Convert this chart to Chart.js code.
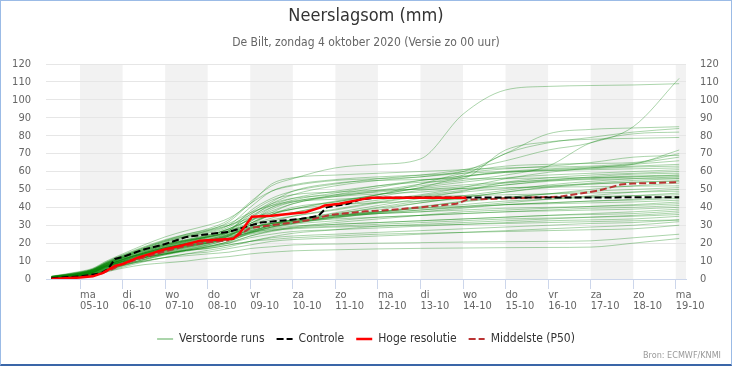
<!DOCTYPE html>
<html><head><meta charset="utf-8">
<script src="https://cdn.jsdelivr.net/npm/chart.js@4.4.1/dist/chart.umd.min.js"></script>
<style>
html,body{margin:0;padding:0;background:#fff;}
#wrap{position:relative;width:732px;height:366px;overflow:hidden;background:#fff;}
#c{position:absolute;left:0;top:0;}
#frame{position:absolute;left:0;top:0;width:732px;height:366px;box-sizing:border-box;border:1px solid #9bbbe6;border-bottom:2px solid #3a66a8;pointer-events:none;}
</style></head>
<body><div id="wrap"><canvas id="c" width="732" height="366"></canvas><div id="frame"></div></div>
<script>
const FONT = "'DejaVu Sans Condensed', 'DejaVu Sans', sans-serif";

// x values are days since zondag 04-10 00:00 (local time)
const dayNames = ['ma','di','wo','do','vr','za','zo','ma','di','wo','do','vr','za','zo','ma'];
const dayDates = ['05-10','06-10','07-10','08-10','09-10','10-10','11-10','12-10','13-10','14-10','15-10','16-10','17-10','18-10','19-10'];
const tickDays = [1,2,3,4,5,6,7,8,9,10,11,12,13,14,15];
const shadedDays = [1,3,5,7,9,11,13,15];

// Hoge resolutie
const hresTimes  = [0.33,1.0,1.3,1.54,1.82,2.01,2.34,2.65,2.95,3.35,3.82,4.6,4.76,5.04,5.5,6.0,6.3,6.64,6.75,7.1,7.58,7.82,10.08];
const hresValues = [0,0.8,1.5,3.4,7.3,8.4,11.8,14,16.3,18.5,21.3,22.4,25.8,34.8,35.3,36.5,37.3,39.8,41,42,44.3,45.4,45.4];
// Controle
const ctrlTimes  = [0.33,1.0,1.47,1.66,1.82,2.0,2.5,3.0,3.5,4.0,4.5,4.95,5.25,5.7,6.2,6.6,6.8,7.3,7.6,8.0,15.08];
const ctrlValues = [0.4,1.5,3,5.6,11.2,12.3,16.5,19.5,23.5,25,26.3,29.5,31.5,32.5,33.6,35.2,40,42,44.5,45.4,45.6];
// Middelste (P50)
const p50Times  = [0.33,1.0,1.5,1.8,2.0,2.5,3.0,3.5,4.0,4.45,4.7,5.0,5.5,6.0,6.4,6.7,6.9,7.7,8.1,9.0,9.85,10.1,10.9,12.3,13.2,13.7,14.0,15.08];
const p50Values = [0.3,1.2,3,6,8.5,12,15.5,18.5,20.5,21.5,24,28.5,30,31.5,33,34.8,35.8,37.8,38.2,40,42,44.3,44.9,46,49.4,52.7,53.3,54];

// Verstoorde runs (50 members), values at runTimes
const runTimes = [0.33,1.0,1.3,1.6,2.0,2.5,3.0,3.5,4.0,4.5,5.0,5.5,6.0,7.0,8.0,9.0,10.0,11.0,12.0,13.0,14.0,15.08];
const run01 = [1.0,3.0,4.5,7.5,11,15,18.5,21,23.5,27,38,45,49,53,56,58,61,66,72,76,85,112];
const run02 = [1.5,3.8,5.5,9,13,17.5,21.5,25,28,33,43,52,56,62,64,67,92,105.5,107.5,108,108.3,109];
const run03 = [0.6,2.2,3.5,6.5,10,14,17,20,22,26,34,42,47,52,55,57,60,70,81,83.5,84.3,85];
const run04 = [1.3,3.5,5.2,8.5,12,16,19.5,22,24.5,28,33,38,42,47,51,55,58,70,76,79,82,84];
const run05 = [0.7,2.4,3.8,7,10,13.5,17,19.5,21.5,25,31,37,42,46,49,52,55,58,63,76,81,82];
const run06 = [1.0,3.0,4.8,8,11.5,15.5,19,21.5,24,28,35,41,45,49,52,54,56,72,76.5,78,78.5,79];
const run07 = [0.4,1.8,3.2,6,9,12.5,15.5,18,20.5,24,30,36,39,43,47,51,57,60,61.5,62.5,64,72];
const run08 = [1.2,3.3,5,8.5,12.5,17,21,24,27,32,42,49,52,55,56,57,60,63,64,64.5,65,70];
const run09 = [0.8,2.5,4,7.2,10.5,14.5,18,20.5,23,26,31,36,40,43,47,53,59,61.5,63,65,68,69];
const run10 = [1.6,4.2,6,9.8,14,19,23.5,27,30,34,42,53,56.5,58,59,60,61,62,62.5,63,64.5,68];
const run11 = [0.5,2.0,3.4,6.3,9.5,13,16,18.5,21,24.5,30,34,37,41,44,47,51,56,59.5,62,64,66];
const run12 = [0.9,2.7,4.3,7.6,11,15,18.5,21,23.5,27,36,42,45,47,49.5,53,57,59.5,61,62,63,64];
const run13 = [0.3,1.4,2.7,5.4,8.5,12,15,17.5,20,24,32,40,44,48,52,55,57.5,59.5,60.5,61.5,62.5,63];
const run14 = [1.1,3.1,4.8,8.2,12,16.5,20.5,23.5,26,30,40,49,52.5,55.5,57,58,59,60,60.5,61,61.5,62];
const run15 = [0.6,2.1,3.6,6.8,10,14,17.5,20,22.5,26,31,36,39,43.5,47,51,54,56.5,58,59,60,61];
const run16 = [0.8,2.6,4.2,7.5,10.8,14.5,17.5,19.5,21.5,24.5,29,31,33,37,41,45,49,54,56.5,58,59,60];
const run17 = [1.4,3.9,5.6,9.4,13.5,18,22,25,27.5,31,37,41,43.5,46,47.5,48.5,50.5,52.5,55,57,58.5,59];
const run18 = [0.2,1.1,2.3,4.8,7.6,11,14,16.5,19,22.5,28,32,35,39,43,46.5,49.5,52.5,54.5,56,57,58];
const run19 = [1.0,2.9,4.6,8,11.8,16,19.5,22,24.5,28,33,35,37,42,46,49.5,51.5,53.5,55.5,56.5,57.5,58];
const run20 = [0.5,2.0,3.5,6.6,9.6,13,16,18.5,21,24,27,30,32,36,40,43.5,46.5,49.5,52.5,54.5,56,57];
const run21 = [1.3,3.5,5.3,8.9,12.8,17,21,24,26.5,30,36,43,49,53.5,55,55.5,56,56,56.5,56.5,57,57];
const run22 = [0.4,1.6,2.9,5.8,8.8,12,15,17.5,19.5,23,26,29,31,35,38.5,42.5,45.5,48.5,51.5,53.5,55,56];
const run23 = [0.7,2.4,4,7.3,10.8,14.5,18,20.5,23,26.5,32,39,43,46.5,48.5,50.5,52.5,54,55,55.5,56,56];
const run24 = [1.0,3.0,4.7,8.2,11.8,15.5,19,21.5,24,27.5,30,33,35,38.5,42.5,46,48.5,50.5,52,53,54,55];
const run25 = [0.3,1.3,2.6,5.2,8,11,14,16,18,21,26,30,33,36.5,39.5,42.5,45.5,48.5,51,53,54,54.5];
const run26 = [0.8,2.6,4.2,7.4,10.7,14.3,17.5,19.8,22,25,27,29.5,31,34.5,37.5,40.5,43,45.5,47.5,50,52,53.5];
const run27 = [1.2,3.3,5.1,8.6,12.5,16.5,20,23,25.5,29,37,44,47,48.5,49.5,50,50.5,51,51.3,51.5,51.8,52];
const run28 = [0.6,2.2,3.7,6.9,10,13.5,16.5,19,21,24,26.5,29,31,34,37,40,43.5,45.5,47.5,49,50,51];
const run29 = [0.2,1.0,2.1,4.4,7.2,10.5,13.5,16,18,21,25.5,29,31.5,34.5,36.5,38.5,40.5,42.5,44.5,46.5,48.5,50];
const run30 = [1.0,2.9,4.5,7.8,11.3,15,18.5,21,23.5,27,34,40,43,44.5,45.5,46,46.5,47,47.5,48,48.5,49];
const run31 = [0.5,1.9,3.3,6.2,9.3,12.5,15.5,18,20,23,27.5,31,33,35.5,37.5,39.5,41.5,43.5,44.5,45.5,46.5,48];
const run32 = [1.4,3.7,5.5,9.2,13.2,17.5,21.5,24.5,27,30,34,37,39,41.5,42.5,43.5,44.5,45,45.5,46,46.5,47];
const run33 = [0.4,1.5,2.8,5.5,8.6,11.7,14.5,17,19,22,26.5,30,32,34.5,36.5,37.5,39.5,41.5,42.5,43.5,44.5,46];
const run34 = [0.7,2.3,3.8,7,10.3,13.8,17,19.5,21.5,24.5,28,30.5,32,35,37,38.5,40,41.5,42.5,43.5,44,45];
const run35 = [1.1,3.1,4.9,8.4,12,15.8,19,21.5,23.5,26.5,29,31,32.5,35.5,37.5,39.5,40.5,41.5,42,42.5,43,44];
const run36 = [0.3,1.2,2.4,4.9,7.8,10.8,13.5,15.5,17.5,20,24,27,29,31.5,33.5,35.5,37.5,38.5,39.5,40.5,41.5,43];
const run37 = [0.8,2.6,4.2,7.4,10.8,14.5,17.5,20,22,25,28.5,31,33,35.5,36.5,37.5,38.5,39.5,40,40.5,41,42];
const run38 = [0.6,2.0,3.5,6.5,9.6,13,16,18,20,22.5,26,28.5,30.5,32.5,34.5,35.5,36.5,37.5,38.5,39.5,40,41];
const run39 = [1.3,3.4,5.2,8.8,12.5,16.5,19.5,21.5,23.5,25.5,28.5,31,32,33.5,34.5,35.5,36.5,37.5,38,38.5,39,40];
const run40 = [0.4,1.5,2.8,5.5,8.5,11.8,14.5,16.5,18.5,20.5,24,26.5,28.5,30.5,31.5,32.5,33.5,34.5,35.5,36.5,37.5,39];
const run41 = [0.7,2.4,4,7.2,10.5,13.8,16.5,18.5,20.5,22.5,25.5,28,29.5,30.5,31.5,32.5,33.5,34.5,35.5,36,36.5,38];
const run42 = [0.2,0.9,1.9,4.0,6.6,9.6,12,14,16,18,21,23.5,25.5,27.5,29.5,30.5,31.5,32.5,33.5,34.5,35.5,37];
const run43 = [0.9,2.7,4.4,7.7,11,14.5,17.5,19.5,21.5,23.5,26,27.5,28.5,29.5,30.5,31.5,32.5,33.5,34,34.5,35,36];
const run44 = [0.5,1.8,3.1,6,9,12,14,16,18,20,23,25,26.5,27.5,28.5,29.5,30.5,31.5,32.5,33,33.5,35];
const run45 = [0.6,2.1,3.6,6.6,9.6,12,14,16,17,19,21,23,24,25,26,27,28,29,30,31,31.5,33];
const run46 = [1.2,3.1,4.8,8.1,11.5,14,17,19,20,22,25,27,28,29,29.5,30,30.5,31,31.5,32,32.5,33];
const run47 = [0.3,1.2,2.3,4.6,7.4,10,12,14,15,17,19,21,22,23,24,25,26,27,28,29,30,32];
const run48 = [0.7,2.2,3.8,6.9,9.8,12,14,16,17,19,21,22,23,24,25,25.5,26,26.5,27,27.5,28,30];
const run49 = [0.4,1.4,2.6,5.1,7.8,10,12,13,14,15,17,18,19,19.5,20,20.3,20.6,20.8,21,21.3,23,25];
const run50 = [0.2,0.8,1.8,3.8,6,8,9,10,11.5,12.5,14,15,15.7,16.3,16.8,17.1,17.3,17.5,17.6,17.8,20,22.6];
const runs = [run01,run02,run03,run04,run05,run06,run07,run08,run09,run10,run11,run12,run13,run14,run15,run16,run17,run18,run19,run20,
              run21,run22,run23,run24,run25,run26,run27,run28,run29,run30,run31,run32,run33,run34,run35,run36,run37,run38,run39,run40,
              run41,run42,run43,run44,run45,run46,run47,run48,run49,run50];

const pairs = (ts, vs) => ts.map((t, i) => ({x: t, y: vs[i]}));

const datasets = [
  {label:'Hoge resolutie', data:pairs(hresTimes,hresValues), borderColor:'#ff0000', backgroundColor:'#ff0000', borderWidth:2.5},
  {label:'Controle', data:pairs(ctrlTimes,ctrlValues), borderColor:'#000000', backgroundColor:'#000000', borderWidth:2, borderDash:[7,3]},
  {label:'Middelste (P50)', data:pairs(p50Times,p50Values), borderColor:'#bb3333', backgroundColor:'#bb3333', borderWidth:2, borderDash:[7,3]}
];
runs.forEach(r => datasets.push({label:'Verstoorde runs', data:pairs(runTimes,r), borderColor:'rgba(0,128,0,0.33)', backgroundColor:'rgba(0,128,0,0.33)', borderWidth:1, cubicInterpolationMode:'monotone'}));
const legendRank = {0:2, 1:1, 2:3, 3:0};

const bandPlugin = {
  id:'bands',
  beforeDraw(chart){
    const {ctx, chartArea:a, scales:{x}} = chart;
    ctx.save(); ctx.fillStyle = '#f2f2f2';
    shadedDays.forEach(d => {
      const x0 = Math.max(x.getPixelForValue(d), a.left);
      const x1 = Math.min(x.getPixelForValue(d + 1), a.right);
      if (x1 > x0) ctx.fillRect(x0, a.top, x1 - x0, a.bottom - a.top);
    });
    ctx.restore();
  }
};
const creditPlugin = {
  id:'credits',
  afterDraw(chart){
    const ctx = chart.ctx;
    ctx.save(); ctx.font = '9px ' + FONT; ctx.fillStyle = '#999999';
    ctx.textAlign = 'right'; ctx.textBaseline = 'middle';
    ctx.fillText('Bron: ECMWF/KNMI', 721, 356);
    ctx.restore();
  }
};

new Chart(document.getElementById('c'), {
  type:'line',
  data:{datasets},
  plugins:[bandPlugin, creditPlugin],
  options:{
    responsive:false, animation:false, devicePixelRatio:1,
    layout:{padding:{top:0, left:0, right:0, bottom:11}},
    elements:{point:{radius:0, hoverRadius:0}, line:{tension:0, fill:false}},
    plugins:{
      title:{display:true, text:'Neerslagsom (mm)', color:'#333333', font:{family:FONT, size:18, weight:'normal', lineHeight:1.2}, padding:{top:6, bottom:0}},
      subtitle:{display:true, text:'De Bilt, zondag 4 oktober 2020 (Versie zo 00 uur)', color:'#666666', font:{family:FONT, size:12, weight:'normal', lineHeight:1.2}, padding:{top:8, bottom:14}},
      legend:{position:'bottom', labels:{usePointStyle:true, pointStyle:'line', pointStyleWidth:16, padding:12, color:'#333333', font:{family:FONT, size:12},
        filter:(it)=>it.datasetIndex<=3, sort:(a,b)=>legendRank[a.datasetIndex]-legendRank[b.datasetIndex],
        generateLabels:(chart)=>{
          const items = Chart.defaults.plugins.legend.labels.generateLabels(chart);
          items.forEach(it => {
            const ds = chart.data.datasets[it.datasetIndex];
            it.lineDash = ds.borderDash || [];
            it.strokeStyle = ds.borderColor;
            it.lineWidth = it.datasetIndex === 3 ? 2 : ds.borderWidth;
          });
          return items;
        }}},
      tooltip:{enabled:false}
    },
    scales:{
      x:{type:'linear', min:0.2, max:15.24,
        afterBuildTicks:(s)=>{ s.ticks = tickDays.map(v=>({value:v})); },
        afterFit:(s)=>{ s.height = 42; },
        grid:{drawOnChartArea:false, drawTicks:true, tickLength:10, color:'#ccd6eb'},
        border:{display:true, color:'#ccd6eb', width:1},
        ticks:{autoSkip:false, maxRotation:0, minRotation:0, align:'start', padding:0, color:'#666666', font:{family:FONT, size:11, lineHeight:1.05},
          callback:(v)=>{ const i = tickDays.indexOf(v); return i < 0 ? '' : [dayNames[i], dayDates[i]]; }}
      },
      y:{position:'left', min:0, max:120,
        afterFit:(s)=>{ s.width = 46; },
        grid:{color:'#e6e6e6', drawTicks:false},
        border:{display:false},
        ticks:{stepSize:10, padding:15, color:'#666666', font:{family:FONT, size:11}}
      },
      y2:{position:'right', min:0, max:120,
        afterFit:(s)=>{ s.width = 46; },
        grid:{display:false, drawTicks:false},
        border:{display:false},
        ticks:{stepSize:10, padding:14, color:'#666666', font:{family:FONT, size:11}}
      }
    }
  }
});
</script></body></html>
